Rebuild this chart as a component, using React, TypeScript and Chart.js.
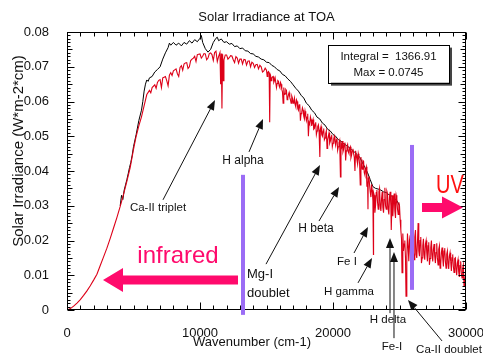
import React, { useEffect, useRef } from 'react';
import { Chart, registerables } from 'chart.js';
Chart.register(...registerables);

// Wavenumber (cm-1), irradiance (W*m-2*cm) pairs
const redSpectrum: [number, number][] = [
  [0, 0], [250, 0.0004], [500, 0.0011], [750, 0.002], [1000, 0.003], [1250, 0.0042], [1500, 0.0055], [1750, 0.007],
  [2000, 0.0086], [2250, 0.0103], [2500, 0.0128], [2750, 0.0153], [3000, 0.0178], [3250, 0.0206], [3500, 0.0236],
  [3750, 0.0266], [4000, 0.0298], [4250, 0.0333], [4500, 0.037], [4750, 0.041],
  [5000, 0.0462], [5200, 0.05], [5400, 0.053], [5600, 0.0556], [5800, 0.0588], [6000, 0.062], [6200, 0.0632],
  [6400, 0.064], [6600, 0.0648], [6800, 0.0655],
  [7000, 0.0663], [7200, 0.0668], [7400, 0.0672], [7600, 0.0645], [7700, 0.0676], [7800, 0.0683], [8000, 0.0688],
  [8200, 0.0694], [8400, 0.0672], [8500, 0.0698], [8600, 0.0703], [8800, 0.0708],
  [9000, 0.0712], [9200, 0.07], [9300, 0.0718], [9400, 0.0722], [9600, 0.073], [9800, 0.0735], [10000, 0.0737],
  [10200, 0.073], [10400, 0.0737], [10600, 0.0725], [10700, 0.0738], [10800, 0.074],
  [11000, 0.0718], [11100, 0.0741], [11200, 0.0745], [11400, 0.073], [11500, 0.0741], [11550, 0.065], [11600, 0.0738],
  [11650, 0.058], [11700, 0.0736], [11760, 0.066], [11800, 0.072], [11900, 0.0734],
  [12000, 0.0734], [12200, 0.0726], [12400, 0.0731], [12600, 0.0712], [12700, 0.0729], [12800, 0.0725], [13000, 0.0722],
  [13200, 0.0708], [13300, 0.0721], [13400, 0.072], [13600, 0.0716], [13800, 0.07], [13900, 0.0713],
  [14000, 0.071], [14200, 0.0706], [14400, 0.0694], [14500, 0.0704], [14600, 0.07], [14800, 0.0688], [14900, 0.0696],
  [15000, 0.069], [15100, 0.0684], [15200, 0.068], [15240, 0.054], [15280, 0.0678], [15300, 0.0676], [15400, 0.0668],
  [15500, 0.0672], [15600, 0.066], [15700, 0.0668], [15800, 0.0652], [15900, 0.0658],
  [16000, 0.064], [16100, 0.065], [16200, 0.0628], [16250, 0.0595], [16300, 0.064], [16400, 0.0622], [16500, 0.0632],
  [16600, 0.061], [16700, 0.0626], [16800, 0.0605], [16900, 0.0616],
  [17000, 0.0595], [17100, 0.061], [17200, 0.0585], [17300, 0.06], [17400, 0.0575], [17500, 0.0592], [17550, 0.0545],
  [17600, 0.0565], [17700, 0.0582], [17800, 0.0558], [17900, 0.0572],
  [18000, 0.0545], [18100, 0.0565], [18150, 0.05], [18200, 0.054], [18300, 0.0556], [18400, 0.053], [18500, 0.0548],
  [18600, 0.0522], [18700, 0.054], [18800, 0.0515], [18900, 0.0533],
  [19000, 0.0508], [19020, 0.044], [19050, 0.052], [19100, 0.0528], [19200, 0.05], [19300, 0.0522], [19400, 0.0495],
  [19500, 0.0516], [19550, 0.0465], [19600, 0.049], [19700, 0.051], [19800, 0.0486], [19900, 0.0504],
  [20000, 0.048], [20100, 0.05], [20200, 0.0474], [20300, 0.0494], [20400, 0.047], [20500, 0.0488], [20560, 0.0383],
  [20600, 0.0478], [20700, 0.0486], [20800, 0.0462], [20900, 0.0482],
  [20950, 0.043], [21000, 0.0458], [21100, 0.0476], [21200, 0.045], [21300, 0.047], [21400, 0.0446], [21500, 0.0464],
  [21600, 0.044], [21650, 0.04], [21700, 0.0458], [21800, 0.0432], [21900, 0.045],
  [22000, 0.042], [22050, 0.036], [22100, 0.044], [22200, 0.0405], [22300, 0.0428], [22400, 0.0388], [22500, 0.0412],
  [22600, 0.037], [22630, 0.029], [22700, 0.0385], [22800, 0.034], [22900, 0.0362],
  [23000, 0.0315], [23040, 0.016], [23100, 0.033], [23200, 0.03], [23300, 0.0345], [23400, 0.029], [23500, 0.035],
  [23600, 0.0285], [23700, 0.034], [23800, 0.028], [23900, 0.0352],
  [24000, 0.029], [24100, 0.0335], [24200, 0.0275], [24300, 0.034], [24380, 0.023], [24450, 0.033], [24500, 0.027],
  [24600, 0.0335], [24700, 0.0265], [24800, 0.032], [24900, 0.0275],
  [25000, 0.03], [25100, 0.023], [25190, 0.0107], [25250, 0.022], [25300, 0.017], [25400, 0.02], [25490, 0.004],
  [25550, 0.015], [25600, 0.022], [25700, 0.014], [25800, 0.0215], [25900, 0.015],
  [26000, 0.02], [26100, 0.0145], [26200, 0.023], [26300, 0.015], [26400, 0.025], [26500, 0.0155], [26600, 0.021],
  [26700, 0.015], [26800, 0.0205], [26900, 0.0145],
  [27000, 0.02], [27100, 0.014], [27200, 0.0195], [27300, 0.0148], [27400, 0.02], [27500, 0.014], [27600, 0.019],
  [27700, 0.0135], [27800, 0.0192], [27900, 0.013],
  [28000, 0.0185], [28100, 0.0132], [28200, 0.018], [28300, 0.0125], [28400, 0.0178], [28500, 0.012], [28600, 0.017],
  [28700, 0.0118], [28800, 0.0165], [28900, 0.0112],
  [29000, 0.016], [29100, 0.0108], [29200, 0.015], [29300, 0.01], [29400, 0.0145], [29500, 0.0095], [29600, 0.014],
  [29700, 0.0092], [29800, 0.013], [29900, 0.0085], [30000, 0.011],
];

// extra in-between samples of the resolved spectrum (absorption lines / noise)
const redFineStructure: [number, number][] = [
  [6300, 0.0625], [6700, 0.0638], [6900, 0.0661], [7100, 0.064], [7300, 0.067], [7500, 0.066], [7900, 0.0675],
  [8100, 0.0691], [8300, 0.068], [8700, 0.069], [8900, 0.0711], [9100, 0.0695], [9500, 0.0725], [9700, 0.0715],
  [9900, 0.0736], [10100, 0.0725], [10300, 0.0738], [10500, 0.072], [10900, 0.0735], [11300, 0.0715], [12100, 0.0722],
  [12300, 0.0732], [12500, 0.072], [12900, 0.071], [13100, 0.0722], [13500, 0.0705], [13700, 0.0717], [14100, 0.0698],
  [14300, 0.0707], [14700, 0.0685], [15050, 0.0672], [15150, 0.0686], [15350, 0.066], [15450, 0.0671], [15550, 0.0655],
  [15650, 0.0668], [15750, 0.064], [15850, 0.066], [15950, 0.0645], [16050, 0.0655], [16150, 0.0635], [16350, 0.062],
  [16450, 0.0635], [16550, 0.0605], [16650, 0.062], [16750, 0.0612], [16850, 0.0595], [16950, 0.061],
  [17050, 0.06], [17150, 0.0592], [17250, 0.0605], [17350, 0.058], [17450, 0.059], [17650, 0.057], [17750, 0.0575],
  [17850, 0.055], [17950, 0.056], [18050, 0.0555], [18250, 0.0535], [18350, 0.0548], [18450, 0.054], [18550, 0.052],
  [18650, 0.0535], [18750, 0.0505], [18850, 0.0528], [18950, 0.0518], [19150, 0.0505], [19250, 0.0515], [19350, 0.049],
  [19450, 0.0508], [19650, 0.05], [19750, 0.048], [19850, 0.0498], [19950, 0.047], [20050, 0.0492], [20150, 0.0485],
  [20250, 0.049], [20350, 0.046], [20450, 0.0482], [20650, 0.047], [20750, 0.0455], [20850, 0.0478], [21050, 0.047],
  [21150, 0.0455], [21250, 0.0466], [21350, 0.0438], [21450, 0.0458], [21550, 0.045], [21750, 0.0445], [21850, 0.042],
  [21950, 0.044], [22150, 0.0415], [22250, 0.043], [22350, 0.0395], [22450, 0.0405], [22550, 0.0355], [22650, 0.038],
  [22750, 0.036], [22850, 0.0325], [22950, 0.0345], [23050, 0.0338], [23150, 0.028], [23250, 0.0338], [23350, 0.031],
  [23450, 0.034], [23550, 0.03], [23650, 0.032], [23750, 0.0295], [23850, 0.0318], [23950, 0.03], [24050, 0.0342],
  [24150, 0.029], [24250, 0.0325], [24350, 0.03], [24550, 0.031], [24650, 0.0285], [24750, 0.033], [24850, 0.029],
  [24950, 0.031], [25050, 0.026], [25150, 0.0205], [25350, 0.019], [25450, 0.015], [25650, 0.0185], [25750, 0.02],
  [25850, 0.012], [25950, 0.019], [26050, 0.0165], [26150, 0.021], [26250, 0.016], [26350, 0.0195], [26450, 0.017],
  [26550, 0.02], [26650, 0.0135], [26750, 0.0185], [26850, 0.016], [26950, 0.019], [27050, 0.0165], [27150, 0.0185],
  [27250, 0.013], [27350, 0.018], [27450, 0.016], [27550, 0.0175], [27650, 0.0155], [27750, 0.0165], [27850, 0.015],
  [27950, 0.0175], [28050, 0.012], [28150, 0.0165], [28250, 0.015], [28350, 0.017], [28450, 0.014], [28550, 0.016],
  [28650, 0.0135], [28750, 0.0155], [28850, 0.014], [28950, 0.015], [29050, 0.0125], [29150, 0.0148], [29250, 0.0118],
  [29350, 0.0135], [29450, 0.011], [29550, 0.0128], [29650, 0.0105], [29750, 0.012], [29850, 0.007], [29950, 0.01],
];

const blackSpectrum: [number, number][] = [
  [4000, 0.03], [4100, 0.033], [4200, 0.0318], [4300, 0.0345], [4400, 0.036], [4500, 0.0375], [4600, 0.0392],
  [4700, 0.041], [4800, 0.0425], [4900, 0.0445], [5000, 0.047], [5200, 0.0505], [5400, 0.0545], [5600, 0.0575],
  [5700, 0.06], [5800, 0.063], [5900, 0.065], [6000, 0.0662], [6100, 0.0658], [6200, 0.0668], [6400, 0.0672],
  [6600, 0.0685], [6800, 0.0692], [7000, 0.07], [7200, 0.0722], [7400, 0.074], [7600, 0.0755], [7700, 0.0768],
  [7800, 0.0762], [8000, 0.077], [8200, 0.0762], [8400, 0.0768], [8600, 0.076], [8800, 0.077], [9000, 0.0765],
  [9200, 0.0775], [9400, 0.0768], [9600, 0.0778], [9800, 0.0772], [10000, 0.0782], [10100, 0.079], [10200, 0.077],
  [10400, 0.0752], [10600, 0.0742], [10800, 0.075], [11000, 0.077], [11200, 0.0782], [11300, 0.0785], [11400, 0.0775],
  [11600, 0.078], [11800, 0.077], [12000, 0.0772], [12200, 0.0765], [12400, 0.0767], [12600, 0.0758], [12800, 0.076],
  [13000, 0.0752], [13200, 0.0754], [13400, 0.0746], [13600, 0.0745], [13800, 0.0738], [14000, 0.0737], [14200, 0.073],
  [14400, 0.0728], [14600, 0.0722], [14800, 0.072], [15000, 0.0713], [15200, 0.0712], [15400, 0.0704], [15600, 0.07],
  [15800, 0.0692], [16000, 0.0688], [16200, 0.0678], [16400, 0.0674], [16600, 0.0665], [16800, 0.0658], [17000, 0.0648],
  [17200, 0.0638], [17400, 0.063], [17600, 0.0618], [17800, 0.061], [18000, 0.0595], [18200, 0.0588], [18400, 0.0575],
  [18600, 0.0568], [18800, 0.0555], [19000, 0.055], [19200, 0.0538], [19400, 0.0532], [19600, 0.052], [19800, 0.0515],
  [20000, 0.0505], [20200, 0.05], [20400, 0.049], [20600, 0.0486], [20800, 0.0478], [21000, 0.0474], [21200, 0.0468],
  [21400, 0.0462], [21600, 0.0455], [21800, 0.0448], [22000, 0.044], [22200, 0.0425], [22400, 0.041], [22600, 0.0395],
  [22800, 0.0375], [23000, 0.0355], [23200, 0.035], [23400, 0.0348], [23600, 0.0345], [23800, 0.034], [24000, 0.0338],
  [24200, 0.0332], [24400, 0.0328], [24600, 0.0322], [24800, 0.0315], [25000, 0.03],
];

const xTickLabels = [0, 10000, 20000, 30000];
const yTickLabels = [0, 0.01, 0.02, 0.03, 0.04, 0.05, 0.06, 0.07, 0.08];
const xMinorStep = 1000;
const yMinorStep = 0.001;

const titleText = 'Solar Irradiance at TOA';
const xTitle = 'Wavenumber (cm-1)';
const yTitle = 'Solar Irradiance (W*m-2*cm)';
const infoLines = ['Integral =  1366.91', 'Max = 0.0745'];

// Line labels: text position [wn, value], arrow tail and tip [wn, value]
const lineLabels = [
  { text: 'Ca-II triplet', at: [6842, 0.0294], from: [7218, 0.0317], to: [11128, 0.0604], size: 11.5, align: 'center' },
  { text: 'H alpha', at: [13233, 0.0429], from: [13685, 0.0455], to: [14737, 0.055], size: 12, align: 'center' },
  { text: 'H beta', at: [18722, 0.0233], from: [18947, 0.0256], to: [20451, 0.0354], size: 12, align: 'center' },
  { text: 'Fe I', at: [21053, 0.0138], from: [21579, 0.0164], to: [22632, 0.0239], size: 11.5, align: 'center' },
  { text: 'H gamma', at: [21203, 0.0052], from: [21880, 0.0078], to: [22932, 0.015], size: 11.5, align: 'center' },
  { text: 'H delta', at: [24135, -0.0029], from: [24286, -0.0009], to: [24286, 0.0207], size: 11.5, align: 'center' },
  { text: 'Fe-I', at: [24436, -0.0107], from: [24586, -0.0081], to: [24586, 0.0167], size: 11.5, align: 'center' },
  { text: 'Ca-II doublet', at: [28722, -0.0115], from: [28196, -0.0089], to: [25639, 0.0029], size: 11.5, align: 'center' },
];
const mgLabel = { lines: ['Mg-I', 'doublet'], at: [13534, 0.0101], lineGap: 0.0052, from: [14963, 0.0132], to: [19023, 0.0417] };
const purpleBars = [
  { wn: 13233, top: 0.0389, bottom: -0.0014 },
  { wn: 25940, top: 0.0475, bottom: 0.0058 },
];
const infraredArrow = { tip: 2707, base: 4210, tail: 12857, level: 0.0086 };
const uvArrow = { tail: 26692, base: 28196, tip: 29774, level: 0.0295 };
const infraredText = { wn: 8346, level: 0.01353 };
const uvText = { wn: 28797, level: 0.0337 };
const infoBox = { left: 19624, right: 28722, top: 0.07637, bottom: 0.06542, line1: 0.0729, line2: 0.0683 };

const FONT = '"Liberation Sans", Arial, Helvetica, sans-serif';
const PINK = '#ff0a6c';

function drawArrow(ctx: CanvasRenderingContext2D, x1: number, y1: number, x2: number, y2: number) {
  const head = 10, hw = 4;
  const ang = Math.atan2(y2 - y1, x2 - x1);
  const bx = x2 - head * Math.cos(ang), by = y2 - head * Math.sin(ang);
  ctx.beginPath(); ctx.moveTo(x1, y1); ctx.lineTo(bx, by); ctx.stroke();
  ctx.beginPath(); ctx.moveTo(x2, y2);
  ctx.lineTo(bx + hw * Math.sin(ang), by - hw * Math.cos(ang));
  ctx.lineTo(bx - hw * Math.sin(ang), by + hw * Math.cos(ang));
  ctx.closePath(); ctx.fill();
}

function fatArrow(ctx: CanvasRenderingContext2D, tip: number, base: number, tail: number, yc: number, half: number, headHalf: number) {
  ctx.beginPath();
  ctx.moveTo(tip, yc);
  ctx.lineTo(base, yc - headHalf);
  ctx.lineTo(base, yc - half);
  ctx.lineTo(tail, yc - half);
  ctx.lineTo(tail, yc + half);
  ctx.lineTo(base, yc + half);
  ctx.lineTo(base, yc + headHalf);
  ctx.closePath();
  ctx.fill();
}

const annotationPlugin = {
  id: 'spectrumAnnotations',
  afterDatasetsDraw(chart: any) {
    const { ctx, chartArea: a } = chart;
    const xs = chart.scales.x, ys = chart.scales.y;
    const X = (v: number) => xs.getPixelForValue(v);
    const Y = (v: number) => ys.getPixelForValue(v);
    ctx.save();
    // frame
    ctx.strokeStyle = '#000';
    ctx.lineWidth = 1;
    const L = Math.round(a.left) + 0.5, R = Math.round(a.right) - 0.5, T = Math.round(a.top) + 0.5, B = Math.round(a.bottom) - 0.5;
    ctx.strokeRect(L, T, R - L, B - T);
    // ticks
    ctx.beginPath();
    for (let v = xs.min; v <= xs.max + 1e-6; v += xMinorStep) {
      const px = Math.round(X(v)) + 0.5;
      const len = Math.abs(v % 10000) < 1e-6 ? 7 : 4;
      ctx.moveTo(px, B); ctx.lineTo(px, B - len);
      ctx.moveTo(px, T); ctx.lineTo(px, T + len);
    }
    const n = Math.round((ys.max - ys.min) / yMinorStep);
    for (let i = 0; i <= n; i++) {
      const v = ys.min + i * yMinorStep;
      const py = Math.round(Y(v)) + 0.5;
      const len = i % 10 === 0 ? 7 : i % 5 === 0 ? 5 : 3;
      ctx.moveTo(L, py); ctx.lineTo(L + len, py);
      ctx.moveTo(R, py); ctx.lineTo(R - len, py);
    }
    ctx.stroke();

    // purple bars
    ctx.fillStyle = '#9b6cf5';
    for (const p of purpleBars) {
      const px = X(p.wn);
      ctx.fillRect(px - 2, Y(p.top), 4, Y(p.bottom) - Y(p.top));
    }

    // label arrows and text
    ctx.fillStyle = '#111';
    ctx.strokeStyle = '#111';
    ctx.lineWidth = 1;
    ctx.textBaseline = 'middle';
    for (const lb of lineLabels) {
      drawArrow(ctx, X(lb.from[0]), Y(lb.from[1]), X(lb.to[0]), Y(lb.to[1]));
    }
    for (const lb of lineLabels) {
      ctx.font = `${lb.size}px ${FONT}`;
      ctx.textAlign = lb.align as CanvasTextAlign;
      ctx.fillText(lb.text, X(lb.at[0]), Y(lb.at[1]));
    }
    drawArrow(ctx, X(mgLabel.from[0]), Y(mgLabel.from[1]), X(mgLabel.to[0]), Y(mgLabel.to[1]));
    ctx.font = `13px ${FONT}`;
    ctx.textAlign = 'left';
    ctx.fillText(mgLabel.lines[0], X(mgLabel.at[0]), Y(mgLabel.at[1]));
    ctx.fillText(mgLabel.lines[1], X(mgLabel.at[0]), Y(mgLabel.at[1] - mgLabel.lineGap));

    // pink arrows
    ctx.fillStyle = PINK;
    fatArrow(ctx, X(infraredArrow.tip), X(infraredArrow.base), X(infraredArrow.tail), Y(infraredArrow.level), 4.5, 12);
    fatArrow(ctx, X(uvArrow.tip), X(uvArrow.base), X(uvArrow.tail), Y(uvArrow.level), 4.5, 11);
    ctx.font = `24px ${FONT}`;
    ctx.textAlign = 'center';
    ctx.textBaseline = 'alphabetic';
    ctx.fillText('infrared', X(infraredText.wn), Y(infraredText.level));
    ctx.save();
    ctx.fillStyle = '#ff1010';
    ctx.translate(X(uvText.wn), Y(uvText.level));
    ctx.scale(0.8, 1);
    ctx.font = `25px ${FONT}`;
    ctx.fillText('UV', 0, 0);
    ctx.restore();

    // info box
    const bl = X(infoBox.left), br = X(infoBox.right), bt = Y(infoBox.top), bb = Y(infoBox.bottom);
    ctx.fillStyle = '#444';
    ctx.fillRect(bl + 3, bt + 3, br - bl, bb - bt);
    ctx.fillStyle = '#fff';
    ctx.fillRect(bl, bt, br - bl, bb - bt);
    ctx.strokeStyle = '#000';
    ctx.strokeRect(Math.round(bl) + 0.5, Math.round(bt) + 0.5, Math.round(br - bl), Math.round(bb - bt));
    ctx.fillStyle = '#111';
    ctx.font = `11.5px ${FONT}`;
    ctx.textBaseline = 'middle';
    ctx.textAlign = 'center';
    const bc = (bl + br) / 2;
    ctx.fillText(infoLines[0], bc, Y(infoBox.line1));
    ctx.fillText(infoLines[1], bc, Y(infoBox.line2));
    ctx.restore();
  },
  afterDraw(chart: any) {
    const { ctx, chartArea: a } = chart;
    const xs = chart.scales.x;
    ctx.save();
    ctx.fillStyle = '#111';
    ctx.textAlign = 'center';
    ctx.textBaseline = 'middle';
    ctx.font = `13px ${FONT}`;
    ctx.fillText(titleText, (a.left + a.right) / 2, 17);
    ctx.fillText(xTitle, xs.getPixelForValue(13910), 342);
    ctx.translate(18.5, 151);
    ctx.rotate(-Math.PI / 2);
    ctx.font = `15px ${FONT}`;
    ctx.fillText(yTitle, 0, 0);
    ctx.restore();
  },
};

export default function App() {
  const ref = useRef<HTMLCanvasElement | null>(null);
  useEffect(() => {
    if (!ref.current) return;
    Chart.defaults.font.family = FONT;
    const redPoints = [...redSpectrum, ...redFineStructure]
      .sort((p, q) => p[0] - q[0])
      .map(([x, y]) => ({ x, y }));
    const chart = new Chart(ref.current, {
      type: 'line',
      data: {
        datasets: [
          {
            label: 'TOA spectrum (resolved)',
            data: redPoints,
            borderColor: '#dd0018',
            borderWidth: 1.1,
            pointRadius: 0,
            tension: 0,
            order: 0,
          },
          {
            label: 'TOA spectrum (smoothed)',
            data: blackSpectrum.map(([x, y]) => ({ x, y })),
            borderColor: '#000',
            borderWidth: 1,
            pointRadius: 0,
            tension: 0,
            order: 1,
          },
        ],
      },
      options: {
        responsive: false,
        animation: false,
        devicePixelRatio: 1,
        layout: { padding: { top: 32, right: 17, bottom: 0, left: 0 } },
        plugins: { legend: { display: false }, tooltip: { enabled: false }, title: { display: false } },
        scales: {
          x: {
            type: 'linear',
            min: 0,
            max: 30000,
            grid: { display: false },
            border: { display: false },
            afterBuildTicks: (s: any) => { s.ticks = xTickLabels.map((v) => ({ value: v })); },
            afterFit: (s: any) => { s.height = 46; s.paddingLeft = 0; s.paddingRight = 0; },
            ticks: {
              autoSkip: false,
              maxRotation: 0,
              padding: 8,
              color: '#111',
              font: { size: 13 },
              callback: (v: any) => String(v),
            },
          },
          y: {
            type: 'linear',
            min: 0,
            max: 0.08,
            grid: { display: false },
            border: { display: false },
            afterBuildTicks: (s: any) => { s.ticks = yTickLabels.map((v) => ({ value: v })); },
            afterFit: (s: any) => { s.width = 67; s.paddingTop = 0; s.paddingBottom = 0; },
            ticks: {
              padding: 10,
              color: '#111',
              font: { size: 13 },
              callback: (v: any) => (v === 0 ? '0' : Number(v).toFixed(2)),
            },
          },
        },
      },
      plugins: [annotationPlugin],
    });
    return () => chart.destroy();
  }, []);
  return (
    <div style={{ position: 'fixed', left: 0, top: 0, width: 483, height: 356, background: '#fff' }}>
      <canvas ref={ref} width={483} height={356} style={{ display: 'block' }} />
    </div>
  );
}
